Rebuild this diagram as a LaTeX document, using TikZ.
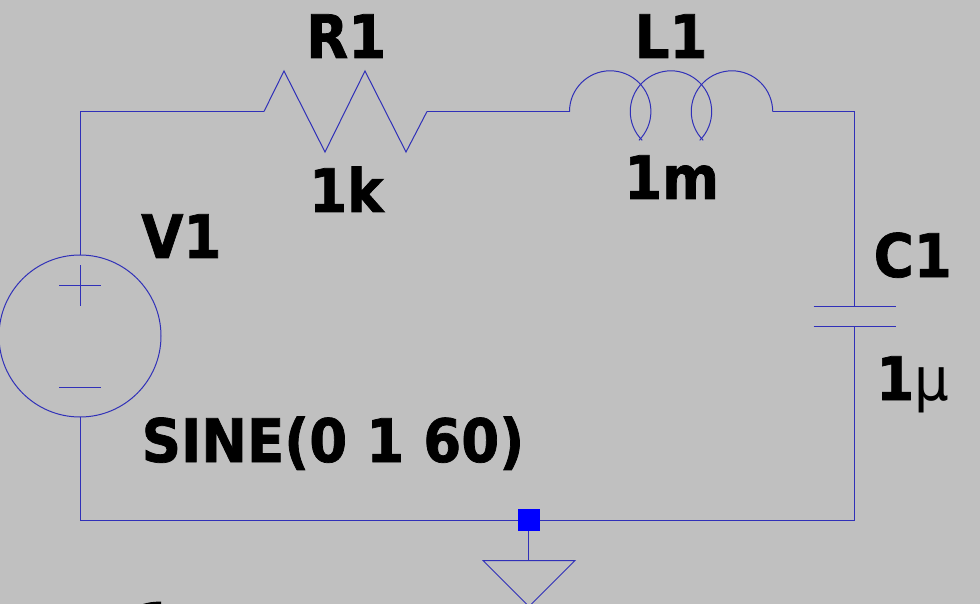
\documentclass[tikz,border=0pt]{standalone}
\usepackage{fontspec}
\setmainfont[FakeStretch=0.91,BoldFeatures={FakeBold=1.2,FakeStretch=0.91}]{DejaVu Sans}
\definecolor{bg}{HTML}{C0C0C0}
\definecolor{wire}{HTML}{3030B8}
\tikzset{
 x=1pt,y=-1pt,
 wirepath/.style={draw=wire,line width=1pt,line join=miter},
 lbl/.style={inner sep=0pt,anchor=base west,font=\fontsize{60}{60}\selectfont\bfseries,text=black},
 anchorpt/.style={inner sep=0pt,minimum size=0pt}
}
\begin{document}
\begin{tikzpicture}
\useasboundingbox (0,0) rectangle (980,604);
\clip (0,0) rectangle (980,604);
\fill[bg] (0,0) rectangle (980,604);
% named connection points
\coordinate (VT) at (80.5,255);
\coordinate (VB) at (80.5,417);
\coordinate (TL) at (80.5,111.5);
\coordinate (RA) at (264,111.5);
\coordinate (RB) at (427,111.5);
\coordinate (LA) at (569.5,111.5);
\coordinate (LB) at (773,111.5);
\coordinate (TR) at (854.5,111.5);
\coordinate (CA) at (854.5,306);
\coordinate (CB) at (854.5,326);
\coordinate (BR) at (854.5,520);
\coordinate (BL) at (80.5,520);
\coordinate (GJ) at (528.5,520);
\coordinate (GT) at (528.5,560.5);
% wires
\draw[wirepath] (VT) -- (TL) -- (RA);
\draw[wirepath] (RB) -- (LA);
\draw[wirepath] (LB) -- (TR) -- (CA);
\draw[wirepath] (CB) -- (BR) -- (BL) -- (VB);
\draw[wirepath] (GJ) -- (GT);
% source
\draw[wirepath] (80,336) circle[radius=81];
\draw[wirepath] (59,285.5) -- (100.5,285.5);
\draw[wirepath] (80,265) -- (80,306);
\draw[wirepath] (59,387) -- (100.5,387);
% resistor
\draw[wirepath] (RA) -- (284,71) -- (325,152) -- (365,71) -- (406,152) -- (RB);
% inductor
\draw[wirepath] (LA) arc[start angle=180,end angle=-45,x radius=40.7,y radius=-40.7];
\draw[wirepath] (642.2,140.3) arc[start angle=-135,end angle=-405,x radius=40.7,y radius=-40.7];
\draw[wirepath] (703.2,140.3) arc[start angle=-135,end angle=-360,x radius=40.7,y radius=-40.7];
% capacitor
\draw[wirepath] (813.5,306) -- (895.5,306);
\draw[wirepath] (813.5,326) -- (895.5,326);
% ground
\draw[wirepath] (GT) -- (483,560.5) -- (529,606.5) -- (575,560.5) -- cycle;
\node[anchorpt,fill={rgb,255:red,0;green,0;blue,255},minimum size=22pt] (junction) at (529,520) {};
% labels
\node[lbl] (r1) at (306,58) {R1};
\node[lbl] (r1v) at (309,212) {1k};
\node[lbl] (l1) at (634.5,58) {L1};
\node[lbl] (l1v) at (624,199) {1m};
\node[lbl] (v1) at (141,258) {V1};
\node[lbl] (vv) at (141.5,462) {SINE(0 1 60)};
\node[lbl] (c1) at (873.5,277) {C1};
\node[lbl] (c1v) at (876,400) {1\textmd{µ}};
% top of a cut-off glyph at the lower edge
\fill[black] (143,604) .. controls (148,602.5) and (153,601.5) .. (161,601.7) -- (161,604) -- cycle;
\end{tikzpicture}
\end{document}
